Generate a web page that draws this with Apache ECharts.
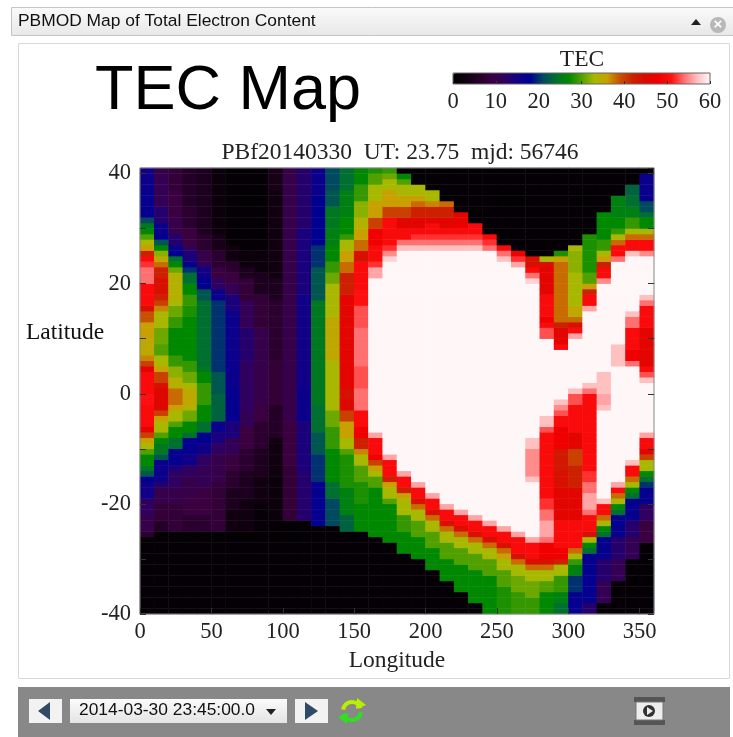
<!DOCTYPE html>
<html><head><meta charset="utf-8">
<style>html,body{margin:0;padding:0;background:#fff}#c{width:733px;height:737px;filter:blur(0.4px)}</style>
<script src="https://cdn.jsdelivr.net/npm/echarts@6/dist/echarts.min.js"></script>
</head><body><div id="c"></div>
<script>
// Each column: pairs of [latitude where the band starts, TEC], running from north to south.
const lon000=[41,15,39,16,36.5,17,32.2,21,31,25,30,27,29,30,28,33,27,36,26.2,42,25.3,50,24,52,22.8,54,20,50,16,44,14.7,39,13,36,10,35,7.4,37,6,40,5,46,3.8,50,-0.5,51,-2.3,50,-6,46,-6.8,40,-7.8,36,-8.7,33,-10,30,-11,27,-13,25,-14,22,-14.7,18,-16.5,15,-18.7,12,-21.7,10,-24.7,7,-26,1];
const lon010=[41,10,39,11,33.5,13,31,16,29,18,28,22,27,27,26,32,25,35,24,38,22.8,42,21.3,44,18.3,42,17,40,16,37,14.7,33,12.2,31,8.6,30,7.4,33,5,36,3.8,40,2.2,44,0.7,45,-2.9,40,-4.1,36,-5.3,33,-6.8,30,-7.8,27,-9.3,25,-11,22,-12.3,16,-15.6,13,-17.5,10,-20.5,8,-23.5,6,-25.3,1];
const lon020=[41,8,36.5,9,31.6,10,28.6,13,27,16,26,18,25,24,24,27,23,31,22,34,17,33,16,31,14,29,11.6,27,6.8,29,5,32,3.2,34,1.3,36,0.7,38,-2.3,36,-3.5,33,-5,30,-6.2,27,-8.4,24,-10,17,-13.2,14,-14.4,12,-17.5,10,-20.5,8,-24.7,5,-25.3,1];
const lon030=[41,6,33.5,7,29.8,9,27.4,11,26,14,23.8,17,22.5,20,21.6,24,20.4,27,18.3,29,16,28,13.5,27,5.6,29,3.8,31,2.2,33,0.7,35,-1.7,34,-3.5,31,-5,27,-7.2,24,-8,17,-10.8,15,-12.6,12,-15,10,-18.7,9,-21.7,7,-25.3,1];
const lon040=[41,5,28.6,7,26,10,24.4,12,22.5,15,20.7,18,19.2,22,17,24,5,25,3.5,27,1.9,29,-2.3,27,-4.7,24,-6.8,18,-9.3,15,-10.8,12,-13,11,-17.5,9,-21.7,7,-25.3,1];
const lon050=[41,2,28.6,4,25.6,7,23,9,20.7,12,19.2,16,17,20,3.8,22,-0.5,23,-4.7,16,-7,14,-9,12,-11.4,10,-16.2,8,-25.3,1];
const lon060=[41,1,27.4,3,23.8,7,22,9,20,11,17.7,14,15.3,16,0.7,17,-5.3,14,-7.8,11,-10.8,9,-14.4,7,-17.5,5,-21,3,-25.3,1];
const lon070=[41,1,26,2,23,5,20.7,8,17,11,12.2,13,6,12,-2.9,11,-6,9,-9.6,7,-14.4,5,-19.3,3,-24.7,1];
const lon080=[41,1,25.6,2,22,5,18.3,8,12.2,10,-1.7,9,-5.3,7,-9.6,5,-15,3,-20,1.5,-24.7,1];
const lon090=[41,4,36.5,3,21.3,5,16.5,7,6,8,-2.3,6,-8.4,3,-15,2,-22.9,1];
const lon100=[41,10,-5.3,9,-12.6,8,-22.9,1];
const lon110=[41,13,30,14,18,15,0.7,16,-5.3,14,-14.4,13,-22.9,1];
const lon120=[41,16,36,18,27.4,20,22.5,22,17,25,-2.3,24,-7,22,-11.4,20,-15.6,17,-23.8,1];
const lon130=[41,21,36.5,22,34,25,30.4,26,26.8,27,24.4,29,22,31,20,33,14,35,6,33,-3.5,31,-6,29,-9.6,27,-15.6,24,-19.3,21,-23.8,1];
const lon140=[41,24,36.5,26,31.6,27,29,29,27.7,33,25.6,36,23.8,38,22,42,18.3,46,0.7,44,-1,45,-2.9,40,-5.3,36,-7.8,33,-9.6,30,-11.4,28,-17.5,26,-22.3,23,-25,1];
const lon150=[41,27,37.7,29,34.7,32,32.2,34,30.4,36,28,38,26.2,44,24.4,50,19.2,51,16,53,12.2,54,5,53,0.7,54,-2.9,50,-6.5,48,-8.4,42,-10,37,-11,33,-13.2,30,-15.6,28,-20,27,-25,1];
const lon160=[41,28,39.5,30,37.7,33,34.7,36,32.2,40,29.8,48,26.8,50,24,52,22.5,56,21,60,-7.2,56,-8,50,-10.8,48,-12,40,-12.9,36,-14,33,-15.3,30,-17.5,27,-26,1];
const lon170=[41,29,40,31,38.9,33,36.5,36,34,40,32,50,27,52,26,55,24.7,58,23.8,60,-11,56,-12,50,-14.7,42,-16,36,-17.5,33,-18.7,30,-20,27,-27,1];
const lon180=[41,1,40,27,39,30,38.3,33,36,36,34,40,32,46,30.4,50,28,54,26.8,57,26,60,-14.1,56,-15,50,-16.8,42,-18,36,-19.3,33,-21.7,29,-25.3,27,-29,1];
const lon190=[41,1,38,33,36,36,35,38,34,42,32,46,30.4,50,28.9,52,28,54,27,57,26,60,-16,56,-17,50,-19,44,-20.2,38,-21,33,-23.2,30,-26.5,27,-30.2,1];
const lon200=[41,1,37,33,35,37,34,42,32,46,30.7,50,28.9,52,28,54,27,57,26,60,-18,56,-19,50,-21,44,-22,38,-23,33,-24.7,30,-28.4,27,-32,1];
const lon210=[41,1,35,38,33.7,42,32,46,30.4,50,28.9,52,28,54,27,57,26,60,-20.2,56,-21,50,-23,44,-24,38,-25,33,-26.8,30,-29.6,27,-34,1];
const lon220=[41,1,33,46,31.3,48,30,50,28.9,52,28,54,27,57,26,60,-21,56,-22,50,-24,44,-25,38,-26,33,-28,30,-30.8,27,-36,1];
const lon230=[41,1,31,50,29,52,28,54,27,57,26,60,-22,56,-23,50,-25,44,-26,38,-27,33,-29,30,-32,27,-38,1];
const lon240=[41,1,29,50,28,52,27,54,26,57,25.8,60,-23,56,-24,50,-26,44,-27,38,-28,33,-29.9,30,-33,27];
const lon250=[41,1,27,50,26,54,25,57,24.4,60,-24,56,-25,50,-27,44,-28,38,-29,36,-29.9,33,-32,30,-35,28];
const lon260=[41,1,26,48,25,52,24,56,23,60,-25,56,-26,50,-29,44,-30,38,-31,33,-33,31,-35.6,29];
const lon270=[41,1,25,44,23,50,22,54,21,58,20,60,-8.4,57,-10,55,-14.7,57,-15.6,60,-26,56,-26.8,50,-29.9,44,-31,38,-32,33,-34,31,-36.8,29];
const lon280=[41,1,25,33,24,44,22.5,46,18.3,50,14,48,12.8,50,12,53,10.4,57,10,60,-4,57,-5.6,53,-7,50,-19,52,-20.8,54,-23.5,56,-26,54,-27,48,-30,44,-31,38,-32,33,-33.8,30,-36.3,27];
const lon290=[41,1,26,28,25,36,24,38,13,42,11.6,46,9.1,50,8.4,56,8,60,-1,57,-2,55,-3,53,-4,50,-6.5,48,-9.6,43,-14.4,44,-17.5,46,-23.5,50,-27.8,48,-30,42,-31,33,-33,29,-35.6,26,-38,24];
const lon300=[41,1,27,33,26,32,22,33,16,35,14,38,12.8,44,12,50,11,56,10,60,0.7,57,-0.2,53,-2,50,-7,46,-9.6,40,-12.6,42,-17.5,46,-23.5,50,-27.8,46,-28,38,-29,33,-30,29,-31,26,-33,20,-35.6,17];
const lon310=[41,1,29,28,22,30,20,33,19.8,36,19,42,18,50,16,56,15,60,2,57,1,54,0,50,-13.8,52,-15.6,54,-17.7,56,-20.8,54,-22,50,-24.7,44,-26,33,-27,27,-28,24,-29,17,-38,13];
const lon320=[41,1,33,27,28.3,29,25.9,33,25,36,24,42,23,50,21,55,20,60,4,57,0,56,-1.7,57,-3,60,-19,57,-20,50,-22,38,-23,33,-24,27,-25,24,-26,17,-30,13,-34,11,-38,1];
const lon330=[41,1,36,26,32,27,30,29,29,33,28,38,27,50,25,54,24,60,8.9,57,5.3,60,-16,56,-17,50,-18,38,-19,33,-20,27,-21,24,-22,17,-26,13,-30,11,-34,1];
const lon340=[41,1,38,23,36,24,34,26,32,29,30,33,29,38,28,50,26,57,25,60,15,57,13.5,54,12,50,8,48,6,54,5,57,4.7,60,-12,57,-13,50,-15,38,-16,33,-17,27,-18,24,-19,17,-22.9,13,-26,11,-30,1];
const lon350=[41,1,40,16,36,17,34.7,21,33,24,32,27,30,33,29,38,28,50,26,55,25,60,18,57,17,54,16,50,12,46,5.3,50,4,53,3.2,57,2,60,-7,56,-8,50,-10,46,-11,40,-12,33,-13.8,27,-15,24,-16,20,-17,17,-20,12,-23.5,9,-27,1];
const tecColumns=[lon000,lon010,lon020,lon030,lon040,lon050,lon060,lon070,lon080,lon090,lon100,lon110,lon120,lon130,lon140,lon150,lon160,lon170,lon180,lon190,lon200,lon210,lon220,lon230,lon240,lon250,lon260,lon270,lon280,lon290,lon300,lon310,lon320,lon330,lon340,lon350];
const tecColors=['#000000','#100010','#240028','#3a003f','#300060','#100088','#000090','#004a60','#007030','#008800','#50a000','#a8b800','#c8a000','#c85000','#cc2000','#dc0800','#f00000','#ff1010','#ff7070','#ffc0c0','#fff6f8'];
const longitudeTicks=[0,50,100,150,200,250,300,350];
const latitudeLabels=[-40,-20,0,20,40];
const colorbarTicks=[0,10,20,30,40,50,60];
const titleText='TEC Map', mapTitle='PBf20140330  UT: 23.75  mjd: 56746';
const panelText='PBMOD Map of Total Electron Content', timeText='2014-03-30 23:45:00.0';

const SERIF='"Liberation Serif","Times New Roman",serif', SANS='"Liberation Sans",Arial,sans-serif';
const lonCats=tecColumns.map((c,i)=>i*10), latCats=[];
for(let l=-40;l<41;l++) latCats.push(l);
const cells=[];
tecColumns.forEach((col,i)=>{
  latCats.forEach((lat,j)=>{
    const mid=lat+0.5; let v=col[1];
    for(let k=0;k<col.length;k+=2){ if(col[k]>=mid) v=col[k+1]; }
    cells.push([i,j,v]);
  });
});
const tri=(pts,fill)=>({type:'polygon',shape:{points:pts},style:{fill},z:20});
const box=(x,y,w,h,fill,stroke,z)=>({type:'rect',shape:{x,y,width:w,height:h},style:{fill,stroke:stroke||null,lineWidth:1},z:z===undefined?19:z});
const txt=(x,y,text,font,fill,align)=>({type:'text',x,y,style:{text,font,fill:fill||'#111',textAlign:align||'left',textVerticalAlign:'middle'},z:20});
const chrome=[
  box(11.5,7.5,722,28,{type:'linear',x:0,y:0,x2:0,y2:1,colorStops:[{offset:0,color:'#fafafa'},{offset:1,color:'#e8e8e8'}]},'#c4c4c4'),
  box(18.5,43.5,711,635,'#fff','#d8d8d8',-5),
  box(18,687,712,50,'#888888'),
  txt(18,21,panelText,'17.4px '+SANS),
  tri([[691,25],[701,25],[696,19]],'#222'),
  {type:'circle',shape:{cx:718,cy:25,r:8},style:{fill:'#b8b8b8'},z:20},
  txt(718,25,'×','bold 15px '+SANS,'#fff','center'),
  box(29,699,33,24,'#f2f2f2'),
  tri([[50,702],[50,720],[38,711]],'#2f4a66'),
  box(70,699,217,24,{type:'linear',x:0,y:0,x2:0,y2:1,colorStops:[{offset:0,color:'#fbfbfb'},{offset:1,color:'#e4e4e4'}]}),
  txt(79,710,timeText,'17.4px '+SANS),
  tri([[266,709],[276,709],[271,715]],'#222'),
  box(295,699,33,24,'#f2f2f2'),
  tri([[305,702],[305,720],[318,711]],'#2f4a66'),
  {type:'arc',shape:{cx:352,cy:711,r:9,startAngle:-Math.PI*0.95,endAngle:-Math.PI*0.1},style:{stroke:'#b8f000',lineWidth:4,fill:null},z:20},
  tri([[357,698],[366,705],[356,709]],'#b8f000'),
  {type:'arc',shape:{cx:352,cy:711,r:9,startAngle:Math.PI*0.05,endAngle:Math.PI*0.9},style:{stroke:'#30e020',lineWidth:4,fill:null},z:20},
  tri([[347,724],[338,717],[348,713]],'#30e020'),
  box(634,697,31,5,'#555'), box(634,720,31,5,'#555'), box(636,702,27,18,'#eee','#777'),
  {type:'circle',shape:{cx:649,cy:711,r:6},style:{fill:'#333'},z:20},
  tri([[647,707],[647,715],[653,711]],'#eee'),
  txt(26,333,'Latitude','23.5px '+SERIF)
];
const tickStyle={show:true,inside:true,length:6,lineStyle:{color:'#333',width:1}};
const hidden={show:false};
const option={
  animation:false,backgroundColor:'#fff',
  graphic:{elements:chrome},
  title:[
    {text:titleText,left:95,top:60,padding:0,textStyle:{fontFamily:SANS,fontSize:63,fontWeight:'normal',color:'#000'},z:21},
    {text:mapTitle,left:400,top:141,padding:0,textAlign:'center',textStyle:{fontFamily:SERIF,fontSize:23.5,fontWeight:'normal',color:'#222'},z:21},
    {text:'TEC',left:582,top:48,padding:0,textAlign:'center',textStyle:{fontFamily:SERIF,fontSize:23.5,fontWeight:'normal',color:'#222'},z:21}
  ],
  grid:[
    {left:140,top:168,width:514,height:446,show:true,borderColor:'#888',borderWidth:1,backgroundColor:'transparent',z:10},
    {left:453,top:73,width:257,height:11,show:true,borderColor:'#666',borderWidth:1,backgroundColor:'transparent',z:10}
  ],
  xAxis:[
    {type:'category',data:lonCats,gridIndex:0,show:false},
    {type:'value',gridIndex:0,min:0,max:360,interval:50,position:'bottom',z:12,
      axisLine:{show:false,onZero:false},axisTick:tickStyle,splitLine:hidden,
      axisLabel:{margin:7,color:'#222',fontFamily:SERIF,fontSize:22.5,showMaxLabel:false,
        formatter:v=>longitudeTicks.includes(v)?String(v):''},
      name:'Longitude',nameLocation:'middle',nameGap:35,nameTextStyle:{fontFamily:SERIF,fontSize:23.5,color:'#222'}},
    {type:'value',gridIndex:1,min:0,max:60,interval:10,position:'bottom',z:12,
      axisLine:{show:false,onZero:false},axisTick:{show:true,inside:true,length:3,lineStyle:{color:'#333'}},splitLine:hidden,
      axisLabel:{margin:7,color:'#222',fontFamily:SERIF,fontSize:22.5,formatter:v=>colorbarTicks.includes(v)?String(v):''}}
  ],
  yAxis:[
    {type:'category',data:latCats,gridIndex:0,show:false},
    {type:'value',gridIndex:0,min:-40,max:41,interval:10,position:'left',z:12,
      axisLine:{show:false,onZero:false},axisTick:tickStyle,splitLine:hidden,
      axisLabel:{margin:9,color:'#222',fontFamily:SERIF,fontSize:22.5,showMaxLabel:false,padding:[0,0,4,0],
        formatter:v=>latitudeLabels.includes(v)?String(v):''}},
    {type:'value',gridIndex:0,min:-40,max:41,interval:10,position:'right',z:12,
      axisLine:{show:false,onZero:false},axisTick:tickStyle,splitLine:hidden,axisLabel:hidden},
    {type:'value',gridIndex:1,min:0,max:1,show:false}
  ],
  visualMap:{type:'continuous',seriesIndex:0,min:0,max:60,orient:'horizontal',left:453,top:73,padding:0,
    itemWidth:11,itemHeight:257,text:null,showLabel:false,calculable:false,realtime:false,hoverLink:false,
    inRange:{color:tecColors},z:4},
  series:[{type:'heatmap',xAxisIndex:0,yAxisIndex:0,data:cells,progressive:0,silent:true,
    emphasis:{disabled:true},itemStyle:{borderWidth:0}}]
};
echarts.init(document.getElementById('c'),null,{renderer:'canvas'}).setOption(option);
</script></body></html>
